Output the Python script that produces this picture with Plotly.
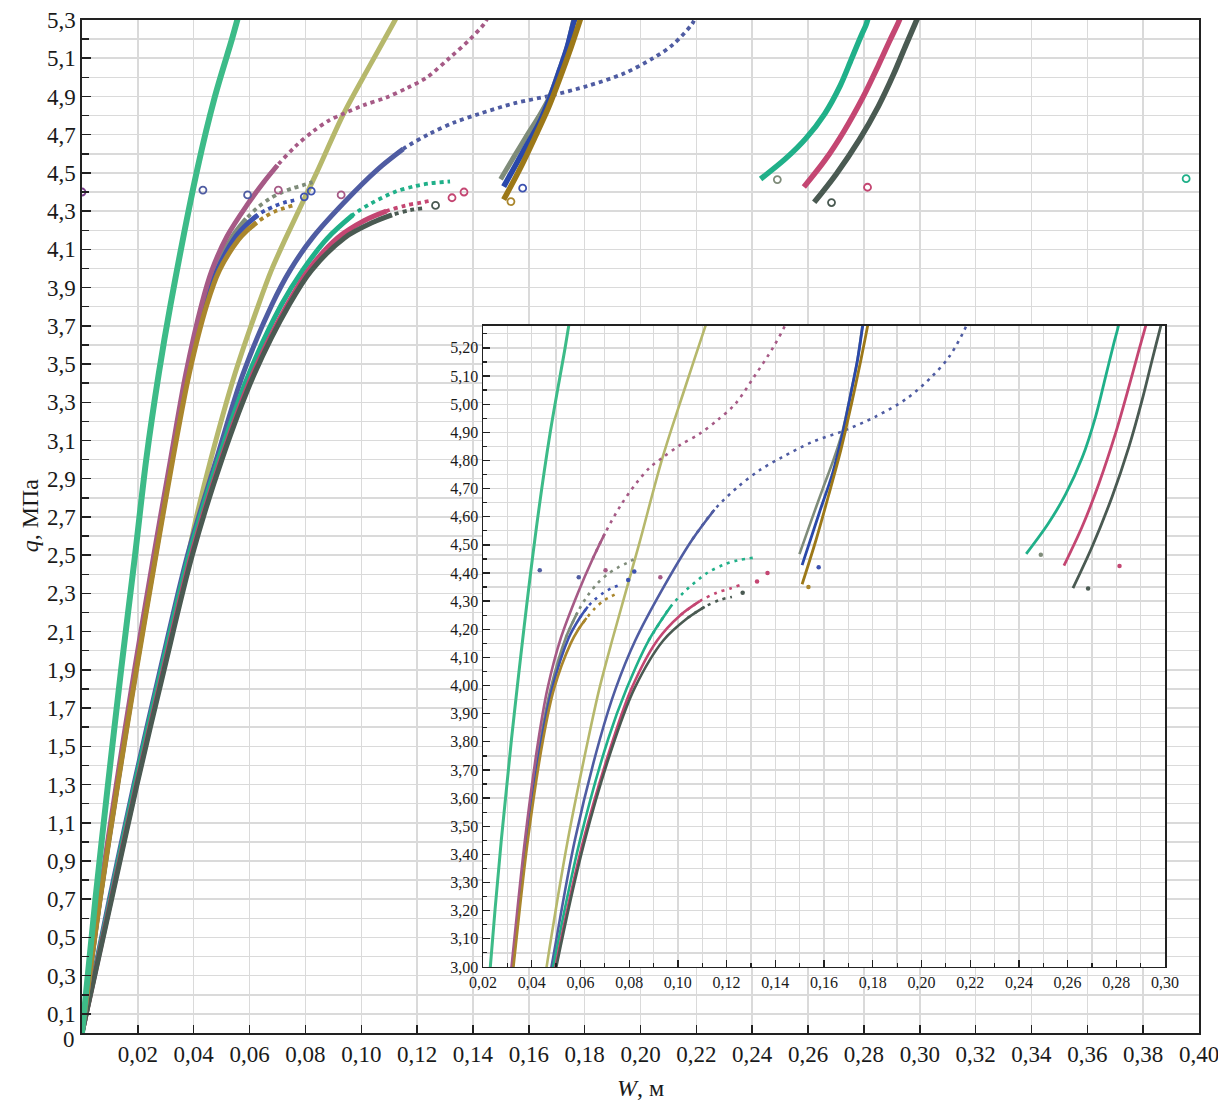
import plotly.graph_objects as go

# ---------------- data ----------------
green_x = [0, 0.0048, 0.0093, 0.0140, 0.0190, 0.0230, 0.0275, 0.0317, 0.0413, 0.0476, 0.0537, 0.0558]
green_y = [0, 0.7, 1.3, 1.9, 2.5, 3.0, 3.45, 3.81, 4.52, 4.90, 5.20, 5.31]

mauve_x = [0, 0.0062, 0.0123, 0.0188, 0.0257, 0.0317, 0.0372, 0.0428, 0.0465, 0.0520, 0.0590, 0.0650,
           0.0700, 0.0765, 0.0830, 0.0885, 0.0937, 0.1010, 0.1090, 0.1165, 0.1235, 0.1315, 0.1390, 0.1440, 0.1452]
mauve_y = [0, 0.7, 1.3, 1.9, 2.5, 3.0, 3.45, 3.81, 3.99, 4.17, 4.33, 4.45,
           4.54, 4.64, 4.72, 4.775, 4.81, 4.855, 4.895, 4.945, 5.00, 5.10, 5.20, 5.28, 5.31]

gray2_x = [0, 0.0064, 0.0126, 0.0191, 0.0261, 0.0320, 0.0378, 0.0437, 0.0478, 0.0540, 0.0588, 0.0630,
           0.0672, 0.0715, 0.0755, 0.0790, 0.0826]
gray2_y = [0, 0.7, 1.3, 1.9, 2.5, 3.0, 3.45, 3.81, 3.99, 4.17, 4.26, 4.32,
           4.365, 4.398, 4.42, 4.435, 4.452]

blue2_x = [0, 0.0064, 0.0127, 0.0193, 0.0263, 0.0322, 0.0380, 0.0441, 0.0484, 0.0552, 0.0597, 0.0630,
           0.0658, 0.0695, 0.0725, 0.0760]
blue2_y = [0, 0.7, 1.3, 1.9, 2.5, 3.0, 3.45, 3.81, 3.99, 4.17, 4.24, 4.28,
           4.305, 4.33, 4.345, 4.357]

brown2_x = [0, 0.0065, 0.0128, 0.0195, 0.0265, 0.0325, 0.0384, 0.0447, 0.0492, 0.0560, 0.0592, 0.0625,
            0.0660, 0.0693, 0.0722, 0.0756]
brown2_y = [0, 0.7, 1.3, 1.9, 2.5, 3.0, 3.45, 3.81, 3.99, 4.15, 4.20, 4.24,
            4.275, 4.30, 4.315, 4.33]

olive_x = [0, 0.0102, 0.0190, 0.0284, 0.0380, 0.0410, 0.0461, 0.0548, 0.0632, 0.0678, 0.0730, 0.0840,
           0.0937, 0.1030, 0.1114, 0.1125]
olive_y = [0, 0.7, 1.3, 1.9, 2.5, 2.7, 3.0, 3.45, 3.81, 3.99, 4.16, 4.50,
           4.81, 5.06, 5.28, 5.31]

blueS_x = [0, 0.0098, 0.0186, 0.0280, 0.0378, 0.0481, 0.0577, 0.0680, 0.0745, 0.0825, 0.0935, 0.1060,
           0.1150, 0.1245, 0.1335, 0.1425, 0.1550, 0.1680, 0.1810, 0.1940, 0.2045, 0.2115, 0.2185, 0.2195]
blueS_y = [0, 0.7, 1.3, 1.9, 2.5, 3.0, 3.45, 3.81, 3.99, 4.16, 4.34, 4.52,
           4.625, 4.705, 4.765, 4.81, 4.865, 4.905, 4.955, 5.02, 5.10, 5.17, 5.28, 5.31]

teal3_x = [0, 0.0101, 0.0189, 0.0284, 0.0383, 0.0488, 0.0598, 0.0714, 0.0790, 0.0880, 0.0970, 0.1035,
           0.1120, 0.1190, 0.1245, 0.1318]
teal3_y = [0, 0.7, 1.3, 1.9, 2.5, 3.0, 3.45, 3.81, 3.99, 4.16, 4.28, 4.34,
           4.40, 4.43, 4.445, 4.455]

pink3_x = [0, 0.0104, 0.0195, 0.0291, 0.0391, 0.0497, 0.0612, 0.0735, 0.0810, 0.0915, 0.1010, 0.1090,
           0.1160, 0.1215, 0.1254]
pink3_y = [0, 0.7, 1.3, 1.9, 2.5, 3.0, 3.45, 3.81, 3.99, 4.16, 4.25, 4.30,
           4.33, 4.345, 4.357]

dgray3_x = [0, 0.0106, 0.0197, 0.0294, 0.0395, 0.0501, 0.0618, 0.0742, 0.0822, 0.0940, 0.1040, 0.1110,
            0.1175, 0.1222]
dgray3_y = [0, 0.7, 1.3, 1.9, 2.5, 3.0, 3.45, 3.81, 3.99, 4.16, 4.24, 4.28,
            4.305, 4.315]

gray_br_x = [0.1499, 0.1545, 0.1595, 0.1638, 0.1675, 0.1710, 0.1738, 0.1762]
gray_br_y = [4.467, 4.58, 4.70, 4.80, 4.90, 5.04, 5.16, 5.31]
blue_br_x = [0.1510, 0.1581, 0.1636, 0.1677, 0.1711, 0.1738, 0.1759, 0.1766]
blue_br_y = [4.428, 4.615, 4.757, 4.899, 5.041, 5.16, 5.278, 5.31]
brown_br_x = [0.1510, 0.1568, 0.1622, 0.1670, 0.1711, 0.1752, 0.1779, 0.1786]
brown_br_y = [4.36, 4.52, 4.686, 4.84, 4.994, 5.16, 5.278, 5.31]
teal_br_x = [0.2430, 0.2520, 0.2592, 0.2660, 0.2715, 0.2756, 0.2790, 0.2808, 0.2815]
teal_br_y = [4.468, 4.575, 4.68, 4.81, 4.956, 5.098, 5.217, 5.276, 5.31]
pink_br_x = [0.2585, 0.2660, 0.2729, 0.2797, 0.2852, 0.2893, 0.2920, 0.2930]
pink_br_y = [4.426, 4.565, 4.719, 4.897, 5.063, 5.193, 5.276, 5.31]
dgray_br_x = [0.2622, 0.2701, 0.2783, 0.2852, 0.2906, 0.2947, 0.2982, 0.2992]
dgray_br_y = [4.346, 4.494, 4.672, 4.849, 5.015, 5.157, 5.276, 5.31]

iso_x = [0.0, 0.0433, 0.0593, 0.0703, 0.0796, 0.0821, 0.0928, 0.1266, 0.1325, 0.1368,
         0.1536, 0.1578, 0.2490, 0.2684, 0.2813, 0.3954]
iso_y = [4.40, 4.41, 4.385, 4.41, 4.375, 4.405, 4.385, 4.33, 4.37, 4.40,
         4.35, 4.42, 4.465, 4.345, 4.425, 4.47]
iso_group = ["purple", "blueS", "blueS", "mauve", "blue2", "blue2", "mauve", "dgray3", "pink3", "pink3",
             "brown2", "blue2", "gray2", "dgray3", "pink3", "teal3"]

main_x_ticks = ["0,02", "0,04", "0,06", "0,08", "0,10", "0,12", "0,14", "0,16", "0,18", "0,20",
                "0,22", "0,24", "0,26", "0,28", "0,30", "0,32", "0,34", "0,36", "0,38", "0,40"]
main_y_ticks = ["0", "0,1", "0,3", "0,5", "0,7", "0,9", "1,1", "1,3", "1,5", "1,7", "1,9", "2,1", "2,3",
                "2,5", "2,7", "2,9", "3,1", "3,3", "3,5", "3,7", "3,9", "4,1", "4,3", "4,5", "4,7",
                "4,9", "5,1", "5,3"]
ins_x_ticks = ["0,02", "0,04", "0,06", "0,08", "0,10", "0,12", "0,14", "0,16", "0,18", "0,20",
               "0,22", "0,24", "0,26", "0,28", "0,30"]
ins_y_ticks = ["3,00", "3,10", "3,20", "3,30", "3,40", "3,50", "3,60", "3,70", "3,80", "3,90", "4,00",
               "4,10", "4,20", "4,30", "4,40", "4,50", "4,60", "4,70", "4,80", "4,90", "5,00", "5,10", "5,20"]

x_title = "<i>W</i>, м"
y_title = "<i>q</i>, МПа"

# ---------------- styles ----------------
COL = {
    "green": "#3dbb88", "mauve": "#a65a86", "olive": "#b6b86c", "blueS": "#4f5ca2",
    "gray2": "#7f8c7a", "blue2": "#3d52b0", "brown2": "#aa862c", "teal3": "#20b089",
    "pink3": "#c44672", "dgray3": "#4a5a52", "purple": "#7b3f8c",
    "blue_br": "#2a48aa", "brown_br": "#9c7818", "gray_br": "#7f8c7a",
}


def val(lbl):
    return float(lbl.replace(",", "."))


fig = go.Figure()
SM = 0.9


def add_series(x, y, color, wm, wi, split_y=None):
    for xa, ya, w, wd, dash in (("x", "y", wm, 3.8, "4px,4px"), ("x2", "y2", wi, 2.6, "3px,5px")):
        base = dict(mode="lines", xaxis=xa, yaxis=ya, hoverinfo="skip", showlegend=False)
        if split_y is None:
            fig.add_trace(go.Scatter(x=x, y=y, line=dict(color=color, width=w, shape="spline", smoothing=SM), **base))
        else:
            k = next(i for i, v in enumerate(y) if v >= split_y)
            fig.add_trace(go.Scatter(x=x[k - 1:], y=y[k - 1:],
                                     line=dict(color=color, width=wd, shape="spline", smoothing=SM, dash=dash),
                                     **base))
            fig.add_trace(go.Scatter(x=x[:k + 1], y=y[:k + 1],
                                     line=dict(color=color, width=w, shape="spline", smoothing=SM), **base))


# group 3 and olive
add_series(olive_x, olive_y, COL["olive"], 5, 2.6)
add_series(blueS_x, blueS_y, COL["blueS"], 5, 2.6, split_y=4.6)
add_series(teal3_x, teal3_y, COL["teal3"], 5, 2.6, split_y=4.28)
add_series(pink3_x, pink3_y, COL["pink3"], 5, 2.6, split_y=4.28)
add_series(dgray3_x, dgray3_y, COL["dgray3"], 5, 2.6, split_y=4.28)
# group 2
add_series(gray2_x, gray2_y, COL["gray2"], 5, 2.6, split_y=4.26)
add_series(blue2_x, blue2_y, COL["blue2"], 5, 2.6, split_y=4.26)
add_series(mauve_x, mauve_y, COL["mauve"], 5, 2.6, split_y=4.54)
add_series(brown2_x, brown2_y, COL["brown2"], 5, 2.6, split_y=4.24)
# green
add_series(green_x, green_y, COL["green"], 6, 3)
# branches
add_series(gray_br_x, gray_br_y, COL["gray_br"], 5, 2.6)
add_series(blue_br_x, blue_br_y, COL["blue_br"], 5.5, 2.8)
add_series(brown_br_x, brown_br_y, COL["brown_br"], 5.5, 2.8)
add_series(teal_br_x, teal_br_y, COL["teal3"], 5.5, 2.8)
add_series(pink_br_x, pink_br_y, COL["pink3"], 5.5, 2.8)
add_series(dgray_br_x, dgray_br_y, COL["dgray3"], 5.5, 2.8)

iso_colors = [COL[g] for g in iso_group]
fig.add_trace(go.Scatter(x=iso_x, y=iso_y, mode="markers", xaxis="x", yaxis="y", hoverinfo="skip",
                         marker=dict(symbol="circle-open", size=7, color=iso_colors, line=dict(width=1.8))))
fig.add_trace(go.Scatter(x=iso_x, y=iso_y, mode="markers", xaxis="x2", yaxis="y2", hoverinfo="skip",
                         marker=dict(symbol="circle", size=4.5, color=iso_colors)))

GRID = "#dadada"
AX = "#222222"
FONT = "Liberation Serif"

# the "0" label sits a little below the axis corner in the original, so it is drawn separately
main_y_text = [""] + main_y_ticks[1:]

fig.update_layout(
    width=1218, height=1102, autosize=False,
    margin=dict(l=82, r=19, t=20, b=69, autoexpand=False),
    paper_bgcolor="white", plot_bgcolor="white",
    showlegend=False,
    font=dict(family=FONT, size=23, color="#1a1a1a"),
    xaxis=dict(domain=[0, 1], range=[0, 0.4], tickmode="array", automargin=False,
               ticklabeloverflow="allow",
               tickvals=[val(t) for t in main_x_ticks], ticktext=main_x_ticks,
               ticks="inside", ticklen=8, tickwidth=1.5, tickcolor=AX,
               showline=True, linecolor=AX, linewidth=1.6, mirror=True,
               showgrid=True, gridcolor=GRID, gridwidth=1.5, zeroline=False,
               tickfont=dict(family=FONT, size=23)),
    yaxis=dict(domain=[0, 1], range=[0, 5.3], tickmode="array", automargin=False,
               ticklabeloverflow="allow",
               tickvals=[val(t) for t in main_y_ticks], ticktext=main_y_text,
               ticks="inside", ticklen=9, tickwidth=1.5, tickcolor=AX,
               minor=dict(tickmode="array",
                          tickvals=[round(0.2 * i, 1) for i in range(1, 27)],
                          ticks="inside", ticklen=7, tickwidth=1.5, tickcolor=AX,
                          showgrid=True, gridcolor=GRID, gridwidth=1.5),
               showline=True, linecolor=AX, linewidth=1.6, mirror=True,
               showgrid=True, gridcolor=GRID, gridwidth=1.5, zeroline=False,
               tickfont=dict(family=FONT, size=23)),
    xaxis2=dict(domain=[0.359, 0.9696], anchor="y2", range=[0.02, 0.30], tickmode="array", automargin=False,
                tickvals=[val(t) for t in ins_x_ticks], ticktext=ins_x_ticks,
                ticks="inside", ticklen=7, tickwidth=1.3, tickcolor=AX,
                minor=dict(tickmode="array", tickvals=[round(0.03 + 0.02 * i, 2) for i in range(14)],
                           ticks="inside", ticklen=4, tickwidth=1.2, tickcolor=AX,
                           showgrid=True, gridcolor=GRID, gridwidth=1.3),
                showline=True, linecolor=AX, linewidth=1.5, mirror=True,
                showgrid=True, gridcolor=GRID, gridwidth=1.3, zeroline=False,
                tickfont=dict(family=FONT, size=16)),
    yaxis2=dict(domain=[0.0652, 0.698], anchor="x2", range=[3.0, 5.278], tickmode="array", automargin=False,
                tickvals=[val(t) for t in ins_y_ticks], ticktext=ins_y_ticks,
                ticks="inside", ticklen=7, tickwidth=1.3, tickcolor=AX,
                minor=dict(tickmode="array", tickvals=[round(3.05 + 0.1 * i, 2) for i in range(23)],
                           ticks="inside", ticklen=4, tickwidth=1.2, tickcolor=AX,
                           showgrid=True, gridcolor=GRID, gridwidth=1.3),
                showline=True, linecolor=AX, linewidth=1.5, mirror=True,
                showgrid=True, gridcolor=GRID, gridwidth=1.3, zeroline=False,
                tickfont=dict(family=FONT, size=16)),
    annotations=[
        dict(text=x_title, xref="paper", yref="paper", x=0.4996, y=-0.0543, showarrow=False,
             font=dict(family=FONT, size=24), xanchor="center", yanchor="middle"),
        dict(text=y_title, xref="paper", yref="paper", x=-0.0466, y=0.511, showarrow=False,
             textangle=-90, font=dict(family=FONT, size=24), xanchor="center", yanchor="middle"),
        dict(text=main_y_ticks[0], xref="paper", yref="y", x=0, y=val(main_y_ticks[0]), showarrow=False,
             xanchor="right", yanchor="middle", xshift=-5, yshift=-6,
             font=dict(family=FONT, size=23, color="#1a1a1a")),
    ],
)

fig.write_html("out.html",
               config={"responsive": False, "displayModeBar": False, "staticPlot": True},
               default_width="1218px", default_height="1102px",
               post_script="document.body.style.margin='0px';document.body.style.overflow='hidden';")
